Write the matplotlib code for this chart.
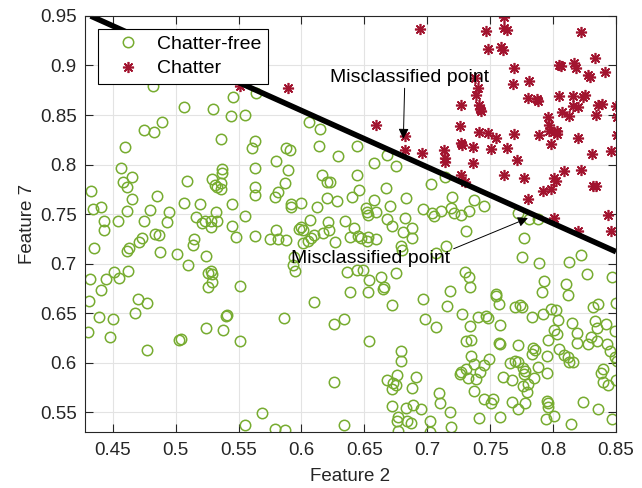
#!/usr/bin/env python3
#Scatter of chatter / chatter-free samples with a separating line
import numpy as np
import matplotlib
matplotlib.use('Agg')
import matplotlib.pyplot as plt
from matplotlib.ticker import FuncFormatter

plt.rcParams['font.family'] = ['Liberation Sans', 'DejaVu Sans']

#### Data ####
# chatter-free samples (feature 2, feature 7)
free_x = [0.482,0.507,0.530,0.546,0.564,0.544,0.555,0.489,0.475,0.483,0.536,0.563,0.561,0.460,
	0.606,0.615,0.614,0.644,0.588,0.591,0.629,0.668,
	0.580,0.589,0.587,0.581,0.579,0.616,0.620,0.623,0.644,0.646,0.640,0.667,0.658,0.675,0.683,0.703,
	0.620,0.628,0.612,0.592,0.592,0.600,0.658,0.651,0.652,0.653,0.659,0.670,0.697,0.704,0.705,0.607,
	0.600,0.601,0.598,0.580,0.575,0.581,0.588,0.621,0.622,0.617,0.610,0.608,0.605,0.601,0.627,0.635,
	0.642,0.639,0.645,0.647,0.653,0.652,0.659,0.668,0.672,0.682,0.681,0.688,0.688,0.679,0.680,0.594,
	0.593,0.595,0.636,0.644,0.649,0.654,0.663,0.666,0.665,0.675,0.639,0.707,
	0.714,0.720,0.737,0.745,0.719,0.721,0.711,0.727,0.733,0.772,0.781,0.788,0.731,0.777,0.775,0.715,
	0.789,0.813,0.822,0.827,0.847,0.730,0.733,0.734,0.718,0.755,0.793,0.791,0.810,0.812,
	0.457,0.465,0.458,0.461,0.465,0.433,0.434,0.441,0.461,0.443,0.443,0.454,0.435,0.475,0.480,0.485,
	0.495,0.493,0.473,0.471,0.463,0.461,0.484,0.487,0.488,0.501,0.509,0.507,0.519,0.516,0.521,0.523,
	0.528,0.528,0.533,0.532,0.515,0.514,0.524,0.510,0.528,0.526,0.529,0.529,0.526,0.537,0.537,0.529,
	0.531,0.533,0.536,0.536,0.545,0.545,0.555,0.563,0.563,0.563,0.563,0.548,0.551,0.432,0.445,0.451,
	0.455,0.462,0.441,
	0.431,0.470,0.477,0.468,0.439,0.450,0.430,0.448,0.477,0.503,0.504,0.524,0.538,0.540,0.541,0.551,
	0.569,0.555,
	0.653,0.610,0.672,0.697,0.586,0.626,0.634,0.698,0.707,0.654,0.679,0.679,0.626,0.676,0.668,0.673,
	0.672,0.675,0.691,0.688,0.709,0.672,0.683,0.689,0.695,0.677,0.676,0.684,0.687,0.702,0.677,0.702,
	0.579,0.587,0.634,
	0.755,0.757,0.716,0.728,0.740,0.747,0.748,0.734,0.758,0.770,0.774,0.775,0.783,0.792,0.798,0.802,
	0.804,0.815,0.832,0.836,0.850,0.833,0.842,0.835,0.849,0.731,0.735,0.757,0.758,0.772,0.801,0.803,
	0.796,0.819,0.819,0.830,0.828,0.835,0.843,0.845,0.784,0.786,0.783,0.795,0.805,0.809,0.812,0.813,
	0.816,0.849,0.851,0.735,0.749,0.737,0.742,0.739,0.732,0.727,0.726,0.731,0.745,0.766,0.770,0.772,
	0.776,0.778,0.777,0.788,0.795,0.760,0.767,0.785,0.776,0.780,0.779,0.737,0.745,0.752,0.751,0.767,
	0.772,0.778,0.795,0.796,0.796,0.824,0.836,0.840,0.838,0.840,0.844,0.850,0.710,0.718,0.741,0.758,
	0.794,0.801,0.814,0.847,0.719]
free_y = [0.879,0.858,0.856,0.868,0.872,0.849,0.850,0.843,0.835,0.833,0.826,0.824,0.817,0.818,
	0.843,0.836,0.819,0.819,0.817,0.815,0.809,0.810,
	0.804,0.794,0.781,0.772,0.767,0.789,0.782,0.782,0.789,0.774,0.767,0.776,0.802,0.799,0.766,0.780,
	0.766,0.763,0.757,0.760,0.757,0.761,0.764,0.756,0.752,0.749,0.752,0.758,0.755,0.751,0.748,0.744,
	0.737,0.734,0.735,0.734,0.725,0.725,0.724,0.742,0.734,0.731,0.729,0.726,0.723,0.721,0.722,0.743,
	0.736,0.727,0.728,0.726,0.727,0.723,0.725,0.745,0.738,0.746,0.732,0.736,0.726,0.718,0.714,0.707,
	0.699,0.693,0.692,0.694,0.694,0.683,0.686,0.676,0.674,0.691,0.671,0.711,
	0.787,0.767,0.764,0.758,0.756,0.751,0.753,0.749,0.753,0.751,0.745,0.745,0.733,0.726,0.707,0.718,
	0.701,0.702,0.709,0.689,0.686,0.692,0.686,0.676,0.672,0.669,0.682,0.671,0.679,0.668,
	0.796,0.787,0.782,0.777,0.765,0.773,0.755,0.757,0.753,0.743,0.734,0.743,0.716,0.743,0.754,0.768,
	0.752,0.742,0.726,0.722,0.716,0.713,0.730,0.729,0.712,0.710,0.783,0.761,0.760,0.747,0.741,0.743,
	0.743,0.737,0.743,0.752,0.725,0.719,0.708,0.699,0.693,0.690,0.689,0.681,0.676,0.795,0.791,0.785,
	0.779,0.777,0.781,0.775,0.760,0.738,0.748,0.796,0.777,0.769,0.728,0.727,0.677,0.684,0.684,0.692,
	0.685,0.693,0.673,
	0.662,0.664,0.660,0.650,0.646,0.644,0.631,0.626,0.613,0.623,0.624,0.635,0.633,0.647,0.648,0.622,
	0.549,0.537,
	0.671,0.661,0.658,0.664,0.645,0.639,0.644,0.644,0.636,0.622,0.612,0.602,0.580,0.588,0.582,0.579,
	0.573,0.577,0.585,0.574,0.569,0.556,0.554,0.557,0.553,0.545,0.541,0.541,0.539,0.541,0.531,0.530,
	0.533,0.532,0.537,
	0.667,0.659,0.657,0.649,0.646,0.647,0.645,0.637,0.638,0.656,0.658,0.656,0.646,0.649,0.654,0.653,
	0.643,0.640,0.656,0.659,0.660,0.642,0.639,0.635,0.632,0.622,0.623,0.620,0.619,0.618,0.633,0.629,
	0.623,0.630,0.620,0.626,0.619,0.622,0.619,0.612,0.615,0.613,0.609,0.607,0.614,0.608,0.606,0.601,
	0.601,0.606,0.602,0.607,0.604,0.599,0.591,0.583,0.584,0.591,0.589,0.594,0.598,0.600,0.602,0.601,
	0.595,0.592,0.589,0.596,0.590,0.585,0.582,0.584,0.576,0.578,0.570,0.571,0.563,0.563,0.559,0.560,
	0.553,0.559,0.561,0.559,0.555,0.560,0.553,0.594,0.590,0.580,0.577,0.582,0.559,0.550,0.544,0.545,
	0.543,0.546,0.538,0.543,0.535]

# chatter samples
chat_x = [0.551,
	0.694,0.589,0.659,0.682,0.682,0.696,0.713,
	0.761,0.761,0.763,0.747,0.748,0.759,0.760,0.822,0.833,0.769,0.805,0.806,0.817,0.818,0.828,0.829,
	0.841,0.738,0.768,0.781,0.740,0.739,0.727,0.741,0.742,0.743,0.780,0.787,0.788,0.805,0.816,0.825,
	0.824,0.816,0.820,0.836,0.839,0.850,0.851,0.807,0.813,0.834,0.796,0.797,0.726,0.741,0.748,0.755,
	0.769,0.789,0.797,0.801,0.803,0.803,0.820,0.851,0.727,0.728,0.736,0.751,0.763,0.798,0.831,0.846,
	0.714,0.714,0.736,0.771,0.727,0.730,0.761,0.777,0.801,0.802,0.809,0.822,0.832,0.834,0.792,0.798,
	0.780,0.801,0.844,0.820,0.846]
chat_y = [0.879,
	0.937,0.877,0.840,0.829,0.815,0.812,0.815,
	0.949,0.938,0.936,0.935,0.917,0.919,0.916,0.934,0.908,0.897,0.900,0.899,0.903,0.897,0.890,0.888,
	0.893,0.887,0.881,0.884,0.877,0.870,0.860,0.860,0.856,0.854,0.867,0.866,0.864,0.869,0.869,0.870,
	0.868,0.859,0.858,0.860,0.861,0.859,0.848,0.853,0.849,0.850,0.848,0.840,0.839,0.833,0.832,0.827,
	0.831,0.830,0.834,0.833,0.834,0.831,0.827,0.830,0.822,0.820,0.818,0.816,0.817,0.821,0.811,0.814,
	0.807,0.803,0.802,0.805,0.789,0.782,0.789,0.786,0.786,0.783,0.793,0.794,0.778,0.778,0.773,0.775,
	0.765,0.746,0.749,0.733,0.733]

# decision boundary end points
bound_x = [0.4325, 0.85]
bound_y = [0.95, 0.712]

# annotations: text, text centre, arrow tail, arrow tip
notes = [('Misclassified point', (0.686, 0.888), (0.682, 0.877), (0.681, 0.826)),
	('Misclassified point', (0.655, 0.705), (0.721, 0.715), (0.780, 0.746))]

xticks = [0.45,0.5,0.55,0.6,0.65,0.7,0.75,0.8,0.85]
yticks = [0.55,0.6,0.65,0.7,0.75,0.8,0.85,0.9,0.95]

green = '#77ac30'
red = '#a2142f'
dark = '#262626'

fig = plt.figure(figsize=(6.42,4.88), dpi=100)
ax = fig.add_axes([0.1324,0.1148,0.8271,0.8525])

ax.plot(free_x, free_y, 'o', mfc='none', mec=green, ms=7.5, mew=1.1, label='Chatter-free')
ax.plot(chat_x, chat_y, ls='none', marker=(8,2,0), mec=red, mfc=red, ms=8, mew=1.2, label='Chatter')
ax.plot(bound_x, bound_y, color='k', lw=4, solid_capstyle='butt')

#text with an arrow pointing at the misclassified sample
for t, pos, tail, tip in notes:
	ax.text(pos[0], pos[1], t, ha='center', va='center', fontsize=14)
	ax.annotate('', xy=tip, xytext=tail,
		arrowprops=dict(arrowstyle='-|>', color='k', lw=0.7, mutation_scale=15, shrinkA=0, shrinkB=0))

ax.set_xlim(0.428, 0.85)
ax.set_ylim(0.53, 0.95)
ax.set_xticks(xticks)
ax.set_yticks(yticks)
fmt = FuncFormatter(lambda v, p: '%g' % v)
ax.xaxis.set_major_formatter(fmt)
ax.yaxis.set_major_formatter(fmt)
ax.tick_params(direction='in', top=True, right=True, length=5.5, width=0.8, color=dark,
	labelsize=13.5, labelcolor=dark)
ax.tick_params(axis='x', pad=7)
ax.tick_params(axis='y', pad=6)
for s in ax.spines.values():
	s.set_color(dark)
	s.set_linewidth(0.8)
ax.grid(True, color='#e3e3e3', lw=0.8)
ax.set_axisbelow(True)
ax.set_xlabel('Feature 2', fontsize=13.5, color=dark, labelpad=7)
ax.set_ylabel('Feature 7', fontsize=13.5, color=dark, labelpad=3)

leg = ax.legend(loc='upper left', bbox_to_anchor=(0.0245,0.969), borderaxespad=0, fontsize=14,
	fancybox=False, edgecolor='k', framealpha=1, handlelength=2.4, handletextpad=0.3,
	borderpad=0.35, labelspacing=0.34)
leg.get_frame().set_linewidth(0.8)

plt.savefig('out.png', dpi=100)
